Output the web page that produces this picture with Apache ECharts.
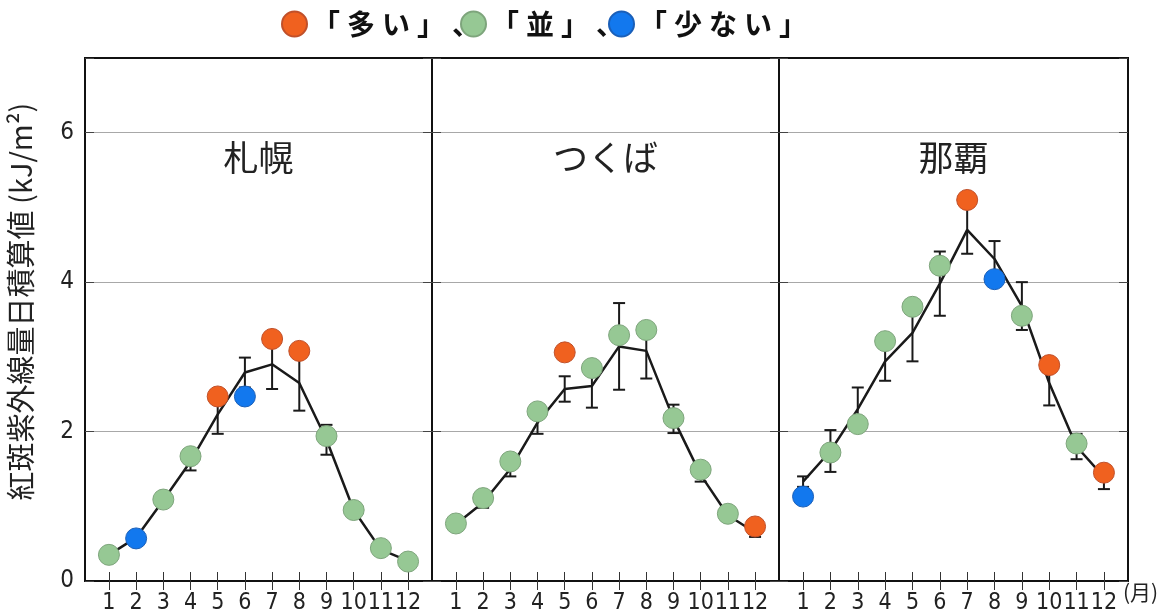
<!DOCTYPE html>
<html>
<head>
<meta charset="utf-8">
<script src="https://cdn.jsdelivr.net/npm/echarts@6/dist/echarts.min.js"></script>
<style>
  html, body { margin: 0; padding: 0; background: #fff; }
  #chart { width: 1169px; height: 615px; }
</style>
</head>
<body>
<div id="chart"></div>
<script>
// months
var months = [1, 2, 3, 4, 5, 6, 7, 8, 9, 10, 11, 12];
var stations = ['札幌', 'つくば', '那覇'];
var legendNames = ['「多い」、', '「並」、', '「少ない」'];
var classKeys = ['多', '並', '少'];

// 札幌
var sapporoObs  = [0.35, 0.57, 1.09, 1.67, 2.47, 2.47, 3.24, 3.08, 1.94, 0.95, 0.44, 0.26];
var sapporoCls  = ['並', '少', '並', '並', '多', '少', '多', '多', '並', '並', '並', '並'];
var sapporoMean = [0.35, 0.58, 1.08, 1.60, 2.23, 2.79, 2.90, 2.65, 1.89, 0.95, 0.42, 0.27];
var sapporoSd   = [0.04, 0.06, 0.08, 0.12, 0.26, 0.20, 0.33, 0.37, 0.20, 0.08, 0.05, 0.03];

// つくば
var tsukubaObs  = [0.77, 1.11, 1.60, 2.27, 3.06, 2.85, 3.29, 3.36, 2.18, 1.49, 0.90, 0.73];
var tsukubaCls  = ['並', '並', '並', '並', '多', '並', '並', '並', '並', '並', '並', '多'];
var tsukubaMean = [0.76, 1.05, 1.50, 2.12, 2.57, 2.61, 3.14, 3.08, 2.17, 1.42, 0.88, 0.65];
var tsukubaSd   = [0.05, 0.07, 0.10, 0.15, 0.17, 0.29, 0.58, 0.37, 0.19, 0.09, 0.05, 0.06];

// 那覇
var nahaObs  = [1.13, 1.72, 2.10, 3.21, 3.67, 4.22, 5.10, 4.04, 3.55, 2.89, 1.84, 1.45];
var nahaCls  = ['少', '並', '並', '並', '並', '並', '多', '少', '並', '多', '並', '多'];
var nahaMean = [1.33, 1.74, 2.30, 2.94, 3.32, 3.98, 4.70, 4.31, 3.68, 2.65, 1.80, 1.39];
var nahaSd   = [0.07, 0.28, 0.29, 0.26, 0.38, 0.43, 0.32, 0.24, 0.32, 0.30, 0.17, 0.16];

var obsList  = [sapporoObs, tsukubaObs, nahaObs];
var clsList  = [sapporoCls, tsukubaCls, nahaCls];
var meanList = [sapporoMean, tsukubaMean, nahaMean];
var sdList   = [sapporoSd, tsukubaSd, nahaSd];

var colors = { '多': '#F0611F', '並': '#96C894', '少': '#1278EE' };
var borders = { '多': '#c0502a', '並': '#7ea57c', '少': '#1a5fb8' };

var numFont = "'Liberation Sans Narrow', 'DejaVu Sans Condensed', 'Liberation Sans', sans-serif";
var jpFont = "'Noto Sans CJK JP', sans-serif";

var gridLeft = [85, 432, 779];
var gridWidth = [347, 347, 349];
var legendLeft = [281, 460, 608];

var chart = echarts.init(document.getElementById('chart'), null, { renderer: 'canvas' });

var grids = [], xAxes = [], yAxes = [], titles = [], series = [], legends = [];

stations.forEach(function (st, i) {
  grids.push({
    left: gridLeft[i], top: 58, width: gridWidth[i], height: 523,
    show: true, borderColor: '#111', borderWidth: 2, backgroundColor: 'transparent'
  });
  titles.push({
    text: st,
    left: gridLeft[i] + gridWidth[i] / 2,
    top: 140,
    textAlign: 'center',
    padding: 0,
    textStyle: { fontFamily: jpFont, fontSize: 35, fontWeight: 'normal', color: '#222' }
  });
});

// one legend per item so the spacing follows the original
legendNames.forEach(function (n, j) {
  legends.push({
    data: [{ name: n, icon: 'circle' }],
    left: legendLeft[j], top: 10, padding: 0,
    itemWidth: 25, itemHeight: 25, itemGap: 0,
    formatter: function (name) { return name.split('').join('\u2005'); },
    textStyle: { fontFamily: jpFont, fontSize: 28, fontWeight: 'bold', color: '#111' }
  });
});

// bottom x axes (0..2)
stations.forEach(function (st, i) {
  xAxes.push({
    type: 'value', gridIndex: i, position: 'bottom',
    min: 0.12, max: 12.88,
    axisLine: { show: false },
    axisTick: { show: true, inside: true, length: 9, customValues: months, lineStyle: { color: '#333', width: 1 } },
    axisLabel: {
      customValues: months, margin: 11,
      showMinLabel: true, showMaxLabel: true, hideOverlap: false,
      fontFamily: numFont, fontSize: 23, color: '#222'
    },
    splitLine: { show: false },
    name: i === 2 ? '(月)' : '',
    nameLocation: 'end',
    nameGap: -6,
    nameTextStyle: { fontFamily: jpFont, fontSize: 21, color: '#222', align: 'left', verticalAlign: 'top', padding: [1, 0, 0, 0] }
  });
});
// top x axes (3..5)
stations.forEach(function (st, i) {
  xAxes.push({
    type: 'value', gridIndex: i, position: 'top',
    min: 0.12, max: 12.88,
    axisLine: { show: false },
    axisTick: { show: true, inside: true, length: 9, customValues: months, lineStyle: { color: '#333', width: 1 } },
    axisLabel: { show: false },
    splitLine: { show: false }
  });
});
// left y axes (0..2)
stations.forEach(function (st, i) {
  yAxes.push({
    type: 'value', gridIndex: i, position: 'left',
    min: 0, max: 7, interval: 2,
    axisLine: { show: false },
    axisTick: { show: true, inside: true, length: 9, lineStyle: { color: '#444' } },
    axisLabel: {
      show: i === 0, margin: 11,
      fontFamily: numFont, fontSize: 24, color: '#222',
      formatter: function (v) { return v > 6 ? '' : String(v); }
    },
    splitLine: { show: true, showMinLine: false, showMaxLine: false, lineStyle: { color: '#a8a8a8', width: 1 } },
    name: i === 0 ? '紅斑紫外線量日積算値 (kJ/m²)' : '',
    nameLocation: 'middle',
    nameGap: 50,
    nameRotate: 90,
    nameTextStyle: { fontFamily: jpFont, fontSize: 29, color: '#222', padding: [0, 0, 0, 36] }
  });
});
// right y axes (3..5)
stations.forEach(function (st, i) {
  yAxes.push({
    type: 'value', gridIndex: i, position: 'right',
    min: 0, max: 7, interval: 2,
    axisLine: { show: false },
    axisTick: { show: true, inside: true, length: 9, lineStyle: { color: '#444' } },
    axisLabel: { show: false },
    splitLine: { show: false }
  });
});

function errorBar(params, api) {
  var x = api.value(0);
  var lo = api.coord([x, api.value(1)]);
  var hi = api.coord([x, api.value(2)]);
  var w = 6;
  var st = { stroke: '#1a1a1a', lineWidth: 2 };
  return {
    type: 'group',
    children: [
      { type: 'line', shape: { x1: lo[0], y1: lo[1], x2: hi[0], y2: hi[1] }, style: st },
      { type: 'line', shape: { x1: hi[0] - w, y1: hi[1], x2: hi[0] + w, y2: hi[1] }, style: st },
      { type: 'line', shape: { x1: lo[0] - w, y1: lo[1], x2: lo[0] + w, y2: lo[1] }, style: st }
    ]
  };
}

stations.forEach(function (st, i) {
  var mean = meanList[i], sd = sdList[i], obs = obsList[i], cls = clsList[i];
  series.push({
    type: 'line', name: st + '平年', xAxisIndex: i, yAxisIndex: i,
    data: months.map(function (m, k) { return [m, mean[k]]; }),
    symbol: 'none', lineStyle: { color: '#1a1a1a', width: 2.5 }, z: 2
  });
  series.push({
    type: 'custom', name: st + '誤差', xAxisIndex: i, yAxisIndex: i,
    renderItem: errorBar,
    encode: { x: 0, y: [1, 2] },
    data: months.map(function (m, k) { return [m, mean[k] - sd[k], mean[k] + sd[k]]; }),
    z: 3
  });
  classKeys.forEach(function (c, j) {
    series.push({
      type: 'scatter', name: legendNames[j], xAxisIndex: i, yAxisIndex: i,
      symbol: 'circle', symbolSize: 21,
      itemStyle: { color: colors[c], borderColor: borders[c], borderWidth: 1, opacity: 1 },
      data: months.map(function (m, k) { return cls[k] === c ? [m, obs[k]] : null; })
                  .filter(function (d) { return d !== null; }),
      z: 4
    });
  });
});

var option = {
  animation: false,
  backgroundColor: '#fff',
  title: titles,
  legend: legends,
  grid: grids,
  xAxis: xAxes,
  yAxis: yAxes,
  series: series
};

chart.setOption(option);
</script>
</body>
</html>
